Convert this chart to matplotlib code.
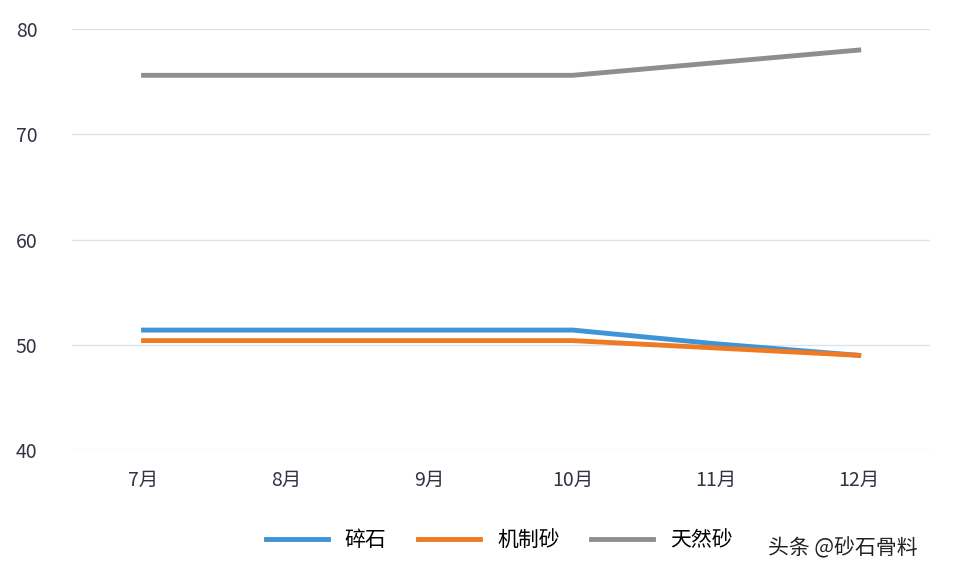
import matplotlib
matplotlib.use('Agg')
import matplotlib.pyplot as plt

plt.rcParams['font.family'] = ['Noto Sans CJK SC', 'DejaVu Sans']

months = ['7月', '8月', '9月', '10月', '11月', '12月']
gravel = [51.4, 51.4, 51.4, 51.4, 50.1, 49.0]
machine_sand = [50.4, 50.4, 50.4, 50.4, 49.7, 49.0]
natural_sand = [75.6, 75.6, 75.6, 75.6, 76.8, 78.0]

fig = plt.figure(figsize=(9.6, 5.8), dpi=100)
ax = fig.add_axes([0.075, 0.224, 0.894, 0.726])
x = range(len(months))
ax.plot(x, gravel, color='#3f94d6', lw=3.5, label='碎石')
ax.plot(x, machine_sand, color='#ee7b24', lw=3.5, label='机制砂')
ax.plot(x, natural_sand, color='#8e8e8e', lw=3.5, label='天然砂')

ax.set_xlim(-0.5, 5.5)
ax.set_ylim(40, 80)
ax.set_yticks([40, 50, 60, 70, 80])
ax.set_xticks(list(x))
ax.set_xticklabels(months)
ax.grid(axis='y', color='#dde3ea', lw=1)
for s in ax.spines.values():
    s.set_visible(False)
ax.tick_params(length=0, labelsize=14, colors='#333344', pad=14)
ax.tick_params(axis='y', pad=25)

fig.legend(loc='lower center', bbox_to_anchor=(0.52, 0.018), ncol=3, frameon=False,
           fontsize=15, handlelength=3, columnspacing=1.5)
fig.text(0.80, 0.045, '头条 @砂石骨料', fontsize=15, color='#222222')
fig.savefig('out.png')
